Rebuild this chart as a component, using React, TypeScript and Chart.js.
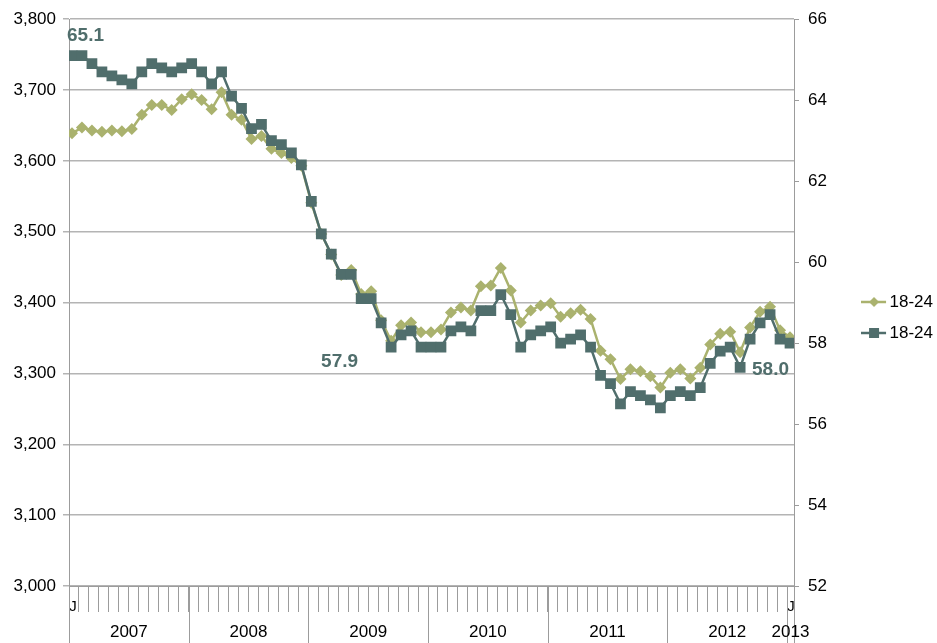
import React, { useEffect, useRef } from 'react';
import { Chart, registerables } from 'chart.js';

Chart.register(...registerables);

// ---------- data ----------
const years = ['2007', '2008', '2009', '2010', '2011', '2012', '2013'];
const monthInitial = 'J';
const seriesLabels = ['18-24', '18-24'];

// Employment level, 18-24 (thousands) — left axis
const employmentLevel = [
  3639, 3647, 3643, 3641, 3643, 3642, 3645, 3665, 3679, 3679,
  3672, 3687, 3694, 3686, 3673, 3697, 3665, 3658, 3631, 3635,
  3617, 3611, 3604, 3593, 3541, 3497, 3468, 3439, 3446, 3412,
  3416, 3375, 3346, 3368, 3372, 3358, 3358, 3362, 3386, 3393,
  3389, 3423, 3424, 3449, 3417, 3372, 3389, 3396, 3399, 3380,
  3385, 3390, 3377, 3332, 3320, 3292, 3306, 3303, 3296, 3280,
  3301, 3306, 3293, 3308, 3341, 3356, 3359, 3330, 3365, 3387,
  3394, 3361, 3351,
];

// Employment-population ratio, 18-24 (%) — right axis
const employmentRatio = [
  65.1, 65.1, 64.9, 64.7, 64.6, 64.5, 64.4, 64.7, 64.9, 64.8,
  64.7, 64.8, 64.9, 64.7, 64.4, 64.7, 64.1, 63.8, 63.3, 63.4,
  63.0, 62.9, 62.7, 62.4, 61.5, 60.7, 60.2, 59.7, 59.7, 59.1,
  59.1, 58.5, 57.9, 58.2, 58.3, 57.9, 57.9, 57.9, 58.3, 58.4,
  58.3, 58.8, 58.8, 59.2, 58.7, 57.9, 58.2, 58.3, 58.4, 58.0,
  58.1, 58.2, 57.9, 57.2, 57.0, 56.5, 56.8, 56.7, 56.6, 56.4,
  56.7, 56.8, 56.7, 56.9, 57.5, 57.8, 57.9, 57.4, 58.1, 58.5,
  58.7, 58.1, 58.0,
];

const leftRange = [3000, 3800, 100];
const rightRange = [52, 66, 2];
const labelledPoints = [0, 32, 72];

// ---------- styles ----------
const W = 937;
const H = 643;
const GREEN = '#aab26e';
const TEAL = '#506e6c';
const GRID = '#b4b4b4';
const AXIS = '#9c9c9c';
const FONT = "'Liberation Sans', Arial, Helvetica, sans-serif";
const X_MIN = -0.3;
const X_MAX = 72.4;
const labelOffsets = [[-5, -15], [-70, 20], [-38, 32]];
const LEGEND_NUDGE = { dx: 6, dy: -13 };

function makeIcon(color: string, style: 'diamond' | 'square') {
  const c = document.createElement('canvas');
  c.width = 26;
  c.height = 14;
  const ctx = c.getContext('2d')!;
  ctx.strokeStyle = color;
  ctx.lineWidth = 2.5;
  ctx.beginPath();
  ctx.moveTo(0, 7);
  ctx.lineTo(25, 7);
  ctx.stroke();
  ctx.fillStyle = color;
  ctx.beginPath();
  if (style === 'diamond') {
    ctx.moveTo(13, 2);
    ctx.lineTo(18, 7);
    ctx.lineTo(13, 12);
    ctx.lineTo(8, 7);
    ctx.closePath();
  } else {
    ctx.rect(8, 2, 10, 10);
  }
  ctx.fill();
  return c;
}

const axisExtras = {
  id: 'axisExtras',
  afterDraw(chart: any) {
    const { ctx, chartArea: a } = chart;
    const x = chart.scales.x;
    ctx.save();
    ctx.strokeStyle = AXIS;
    ctx.lineWidth = 1;
    const bounds = years.map((_, k) => x.getPixelForValue(12 * k + X_MIN));
    ctx.beginPath();
    bounds.forEach((px: number) => {
      const xx = Math.round(px) + 0.5;
      ctx.moveTo(xx, a.bottom);
      ctx.lineTo(xx, H);
    });
    const rx = Math.round(a.right) + 0.5;
    ctx.moveTo(rx, a.bottom);
    ctx.lineTo(rx, H);
    ctx.stroke();

    ctx.fillStyle = '#000';
    ctx.font = `17px ${FONT}`;
    ctx.textAlign = 'center';
    ctx.textBaseline = 'middle';
    years.forEach((y, k) => {
      const l = bounds[k];
      const r = k + 1 < bounds.length ? bounds[k + 1] : a.right;
      ctx.fillText(y, (l + r) / 2, a.bottom + 46);
    });
    ctx.restore();
  },
};

const valueLabels = {
  id: 'valueLabels',
  afterDatasetsDraw(chart: any) {
    const { ctx } = chart;
    const meta = chart.getDatasetMeta(1);
    ctx.save();
    ctx.font = `bold 19px ${FONT}`;
    ctx.fillStyle = TEAL;
    ctx.textAlign = 'left';
    ctx.textBaseline = 'alphabetic';
    labelledPoints.forEach((idx, j) => {
      const p = meta.data[idx];
      if (!p) return;
      const [dx, dy] = labelOffsets[j];
      ctx.fillText(employmentRatio[idx].toFixed(1), p.x + dx, p.y + dy);
    });
    ctx.restore();
  },
};

const legendNudge = {
  id: 'legendNudge',
  afterLayout(chart: any) {
    const lg = chart.legend;
    if (!lg) return;
    lg.left += LEGEND_NUDGE.dx;
    lg.right += LEGEND_NUDGE.dx;
    lg.top += LEGEND_NUDGE.dy;
    lg.bottom += LEGEND_NUDGE.dy;
  },
};

export default function App() {
  const ref = useRef<HTMLCanvasElement | null>(null);

  useEffect(() => {
    if (!ref.current) return;
    const icons = [makeIcon(GREEN, 'diamond'), makeIcon(TEAL, 'square')];
    const colors = [GREEN, TEAL];
    const tickFont = { family: FONT, size: 17 };

    const chart = new Chart(ref.current, {
      type: 'line',
      data: {
        datasets: [
          {
            label: seriesLabels[0],
            data: employmentLevel.map((v, i) => ({ x: i, y: v })),
            yAxisID: 'y',
            borderColor: GREEN,
            backgroundColor: GREEN,
            borderWidth: 2.5,
            pointStyle: 'rectRot',
            pointRadius: 6,
            pointBorderWidth: 0,
            tension: 0,
            order: 2,
          },
          {
            label: seriesLabels[1],
            data: employmentRatio.map((v, i) => ({ x: i, y: v })),
            yAxisID: 'y1',
            borderColor: TEAL,
            backgroundColor: TEAL,
            borderWidth: 2.5,
            pointStyle: 'rect',
            pointRadius: 7.6,
            pointBorderWidth: 0,
            tension: 0,
            order: 1,
          },
        ],
      },
      options: {
        responsive: false,
        animation: false,
        layout: { padding: { top: 18, left: 0, right: 0, bottom: 0 } },
        scales: {
          x: {
            type: 'linear',
            min: X_MIN,
            max: X_MAX,
            afterBuildTicks: (s: any) => {
              s.ticks = years.slice(0, 6).flatMap((_, k) =>
                Array.from({ length: 12 }, (_, m) => ({ value: 12 * k + m + X_MIN }))
              ).concat([{ value: 72 + X_MIN }]);
            },
            afterFit: (s: any) => {
              s.height = 57;
            },
            ticks: {
              autoSkip: false,
              maxRotation: 0,
              minRotation: 0,
              padding: -14,
              labelOffset: 4,
              font: { family: FONT, size: 15 },
              color: '#000',
              callback: (_v: any, i: number) => (i === 0 || i === 72 ? monthInitial : ''),
            },
            grid: { drawOnChartArea: false, tickLength: 26, color: AXIS, lineWidth: 1 },
            border: { color: AXIS, width: 1 },
          },
          y: {
            type: 'linear',
            position: 'left',
            min: leftRange[0],
            max: leftRange[1],
            afterFit: (s: any) => {
              s.width = 69;
            },
            ticks: {
              stepSize: leftRange[2],
              padding: 7,
              font: tickFont,
              color: '#000',
              callback: (v: any) => Number(v).toLocaleString('en-US'),
            },
            grid: { color: GRID, lineWidth: 1.5, tickLength: 6 },
            border: { color: AXIS, width: 1 },
          },
          y1: {
            type: 'linear',
            position: 'right',
            min: rightRange[0],
            max: rightRange[1],
            afterFit: (s: any) => {
              const lw = s.chart.legend ? s.chart.legend.width : 0;
              s.width = W - 794 - lw;
            },
            ticks: {
              stepSize: rightRange[2],
              padding: 9,
              font: tickFont,
              color: '#000',
            },
            grid: { drawOnChartArea: false, color: AXIS, lineWidth: 1, tickLength: 5 },
            border: { color: AXIS, width: 1 },
          },
        },
        plugins: {
          tooltip: { enabled: false },
          legend: {
            position: 'right',
            align: 'center',
            labels: {
              usePointStyle: true,
              pointStyleWidth: 14,
              padding: 14,
              color: '#000',
              font: { family: FONT, size: 17 },
              generateLabels: () =>
                icons.map((ic, i) => ({
                  text: seriesLabels[i],
                  pointStyle: ic,
                  fillStyle: colors[i],
                  strokeStyle: colors[i],
                  lineWidth: 0,
                  hidden: false,
                  datasetIndex: i,
                  fontColor: '#000',
                })),
            },
          },
        },
      },
      plugins: [axisExtras, valueLabels, legendNudge],
    } as any);

    return () => chart.destroy();
  }, []);

  return (
    <div style={{ position: 'fixed', left: 0, top: 0, width: W, height: H, background: '#fff' }}>
      <canvas ref={ref} width={W} height={H} style={{ display: 'block', width: W, height: H }} />
    </div>
  );
}
